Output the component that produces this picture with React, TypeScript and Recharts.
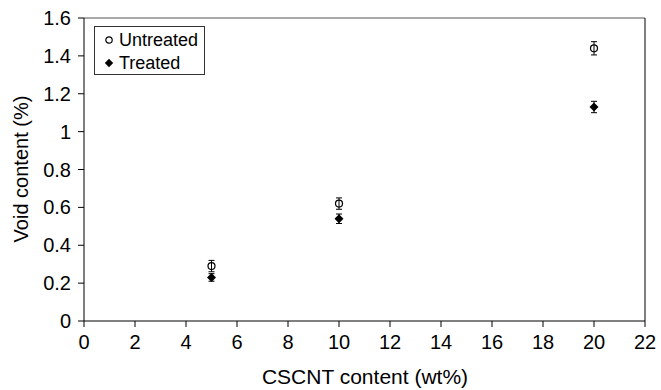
import {
  ScatterChart,
  Scatter,
  XAxis,
  YAxis,
  ErrorBar,
  ReferenceLine,
  Legend,
} from 'recharts'

const contents = [5, 10, 20]
const untreatedVoid = [0.29, 0.62, 1.44]
const untreatedErr = [0.03, 0.03, 0.035]
const treatedVoid = [0.23, 0.54, 1.13]
const treatedErr = [0.02, 0.025, 0.03]
const xTicks = [0, 2, 4, 6, 8, 10, 12, 14, 16, 18, 20, 22]
const yTicks = [0, 0.2, 0.4, 0.6, 0.8, 1, 1.2, 1.4, 1.6]

const untreated = contents.map((x, i) => ({ x, y: untreatedVoid[i], err: untreatedErr[i] }))
const treated = contents.map((x, i) => ({ x, y: treatedVoid[i], err: treatedErr[i] }))

const FONT = '"Liberation Sans", Arial, sans-serif'

const OpenCircle = (props: any) => {
  const { cx, cy } = props
  return <circle cx={cx} cy={cy} r={3.5} fill="none" stroke="#000" strokeWidth={1.2} />
}

const Diamond = (props: any) => {
  const { cx, cy } = props
  const s = 4.5
  return (
    <path
      d={`M${cx},${cy - s} L${cx + s},${cy} L${cx},${cy + s} L${cx - s},${cy} Z`}
      fill="#000"
    />
  )
}

const LegendBox = () => (
  <div style={{
    border: '1px solid #333',
    background: '#fff',
    width: 111,
    height: 49,
    fontFamily: FONT,
    fontSize: 18,
    color: '#000',
    boxSizing: 'border-box',
    padding: '2px 0 0 8px',
    lineHeight: '22px',
    textAlign: 'left',
  }}>
    <div style={{ display: 'flex', alignItems: 'center', height: 22.5 }}>
      <svg width={12} height={12} style={{ marginRight: 4 }}>
        <circle cx={6} cy={6} r={3.2} fill="none" stroke="#000" strokeWidth={1.2} />
      </svg>
      Untreated
    </div>
    <div style={{ display: 'flex', alignItems: 'center', height: 22.5 }}>
      <svg width={12} height={12} style={{ marginRight: 4 }}>
        <path d="M6,1.8 L10.2,6 L6,10.2 L1.8,6 Z" fill="#000" />
      </svg>
      Treated
    </div>
  </div>
)

const YLabel = () => {
  const cy = 169
  const cx = 28
  return (
    <text
      x={cx}
      y={cy}
      transform={`rotate(-90, ${cx}, ${cy})`}
      textAnchor="middle"
      fontFamily={FONT}
      fontSize={20}
      fill="#000"
    >
      Void content (%)
    </text>
  )
}

const XLabel = () => (
  <text
    x={365}
    y={384}
    textAnchor="middle"
    fontFamily={FONT}
    fontSize={21}
    fill="#000"
  >
    CSCNT content (wt%)
  </text>
)

export default function App() {
  const tickStyle = { fill: '#000', fontSize: 20, fontFamily: FONT }
  return (
    <div style={{ position: 'absolute', left: 0, top: 0, width: 661, height: 390, background: '#fff' }}>
      <ScatterChart width={661} height={390} margin={{ top: 18, right: 16, bottom: 0, left: 0 }}>
        <XAxis
          type="number"
          dataKey="x"
          domain={[0, 22]}
          ticks={xTicks}
          height={69}
          tick={tickStyle}
          fontSize={20}
          fontFamily={FONT}
          tickSize={6}
          tickMargin={8}
          stroke="#000"
          axisLine={{ stroke: '#000' }}
          tickLine={{ stroke: '#000' }}
          label={<XLabel />}
        />
        <YAxis
          type="number"
          dataKey="y"
          domain={[0, 1.6]}
          ticks={yTicks}
          width={84}
          tick={tickStyle}
          fontSize={20}
          fontFamily={FONT}
          tickSize={6}
          tickMargin={7}
          stroke="#000"
          axisLine={{ stroke: '#000' }}
          tickLine={{ stroke: '#000' }}
          label={<YLabel />}
        />
        <ReferenceLine y={1.6} stroke="#555" strokeWidth={1} />
        <ReferenceLine x={22} stroke="#000" strokeWidth={1} />
        <Legend
          layout="vertical"
          verticalAlign="middle"
          align="center"
          wrapperStyle={{ left: 94, top: 26, width: 'auto', height: 'auto' }}
          content={<LegendBox />}
        />
        <Scatter name="Untreated" data={untreated} shape={<OpenCircle />} isAnimationActive={false}>
          <ErrorBar dataKey="err" direction="y" width={3} stroke="#000" strokeWidth={1} />
        </Scatter>
        <Scatter name="Treated" data={treated} shape={<Diamond />} isAnimationActive={false}>
          <ErrorBar dataKey="err" direction="y" width={3} stroke="#000" strokeWidth={1} />
        </Scatter>
      </ScatterChart>
    </div>
  )
}
